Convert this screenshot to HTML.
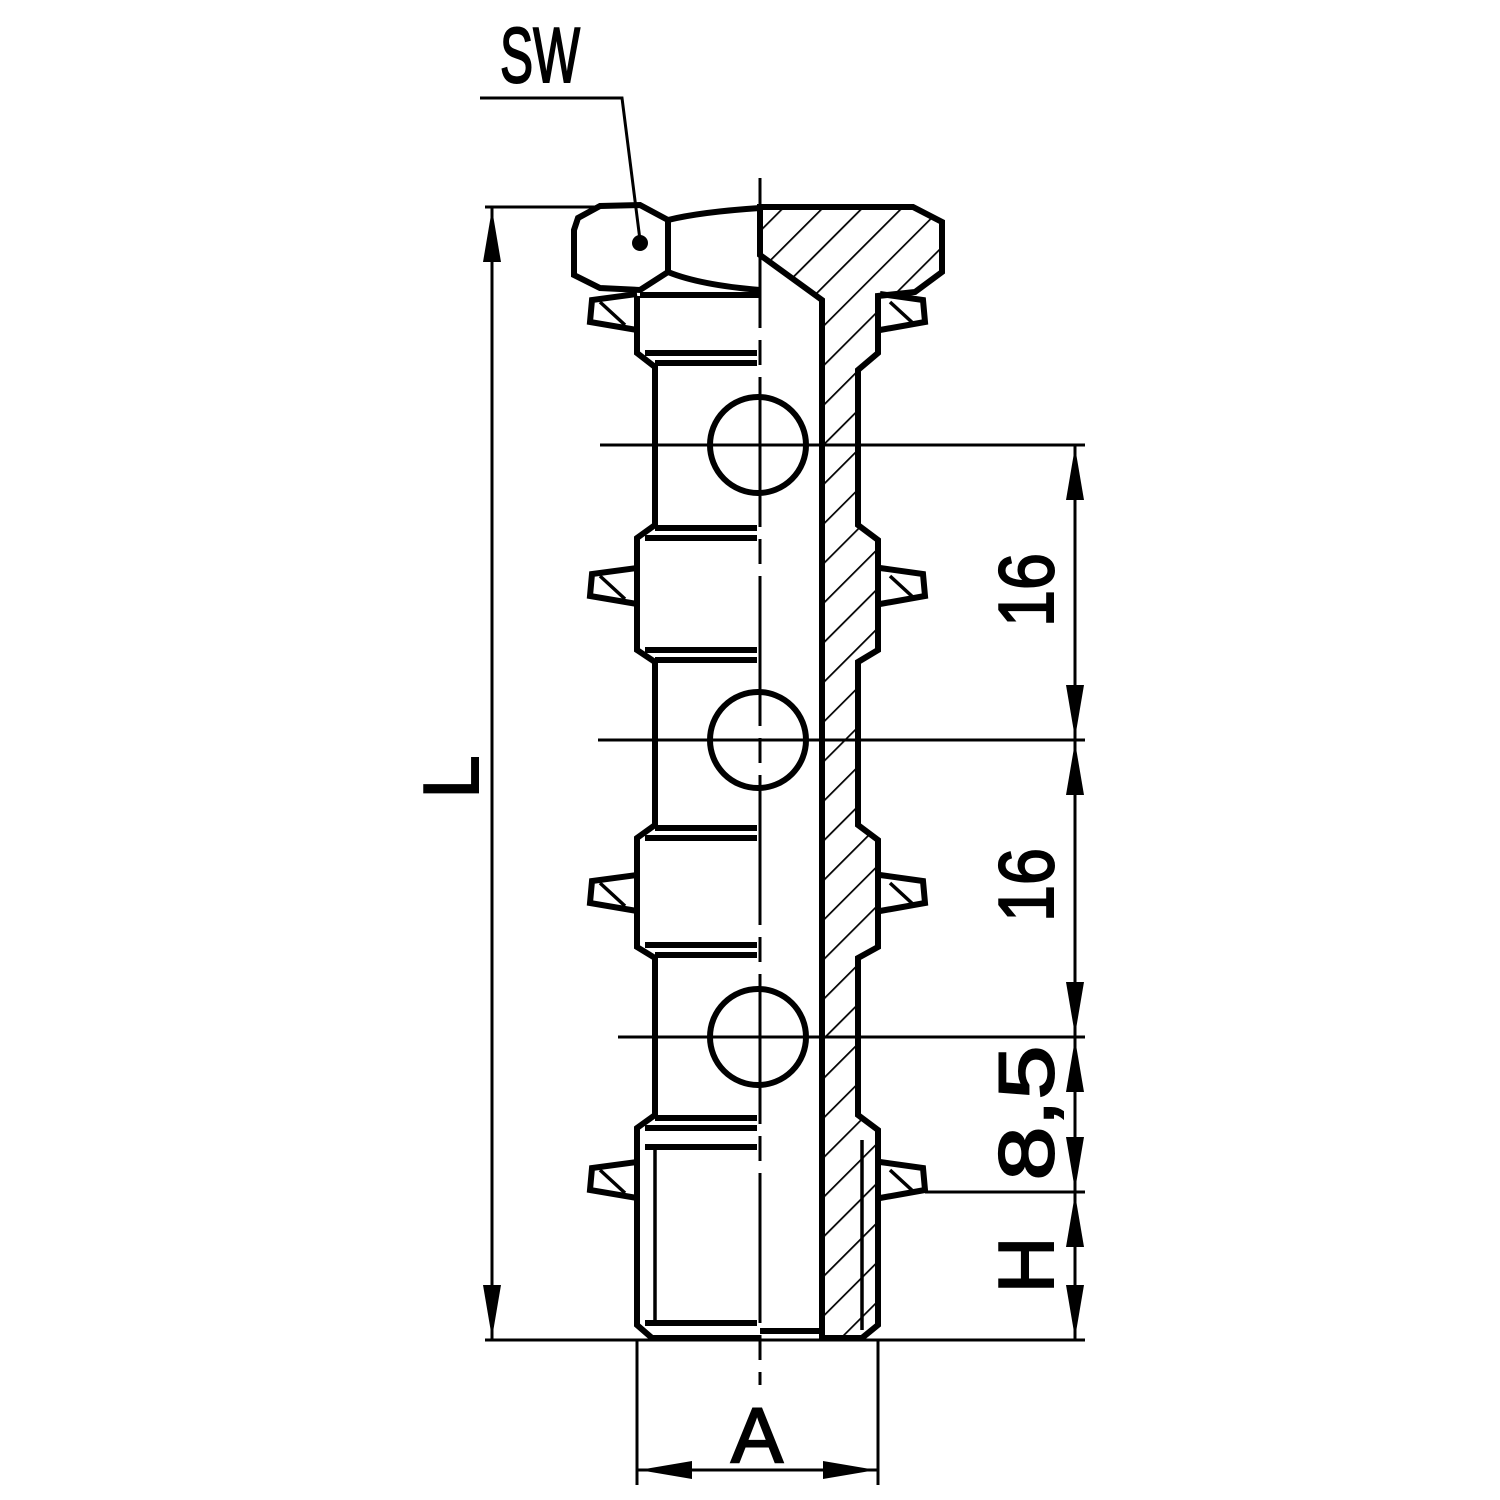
<!DOCTYPE html>
<html><head><style>html,body{margin:0;padding:0;background:#fff}svg{display:block}</style></head>
<body>
<svg width="1500" height="1500" viewBox="0 0 1500 1500" xmlns="http://www.w3.org/2000/svg">
<defs>
<pattern id="h" patternUnits="userSpaceOnUse" width="28" height="28" patternTransform="rotate(45)">
<line x1="0" y1="0" x2="0" y2="28" stroke="#000" stroke-width="3.5"/>
</pattern>
<g id="sealL">
<path d="M637,-18 L592,-12 L590,10 L637,18" fill="none" stroke="#000" stroke-width="6"/>
<line x1="600" y1="-10" x2="625" y2="13" stroke="#000" stroke-width="3.5"/>
</g>
<g id="sealR">
<path d="M880,-18 L923,-12 L925,10 L880,18" fill="none" stroke="#000" stroke-width="6"/>
<line x1="890" y1="-10" x2="915" y2="13" stroke="#000" stroke-width="3.5"/>
</g>
</defs>
<g fill="none" stroke="#000">
<path d="M760,207 L913,207 L942,222 L942,272 L915,292 L878,296 L878,353 L858,370 L858,525 L878,540 L878,650 L858,662 L858,825 L878,840 L878,947 L858,958 L858,1115 L878,1130 L878,1325 L862,1338 L822,1338 L822,300 L760,255 Z" fill="url(#h)" stroke-width="6"/>
<line x1="862" y1="1140" x2="862" y2="1330" stroke-width="3.5"/>
<path d="M600,206 L578,218 L574,230 L574,275 L600,288 L640,290 L668,272 L668,220 L640,205 Z" stroke-width="6"/>
<path d="M668,220 Q700,212 760,208 M668,272 Q700,285 760,290" stroke-width="6"/>
<circle cx="640" cy="243" r="8" fill="#000" stroke="none"/>
<line x1="640" y1="295" x2="760" y2="295" stroke-width="6"/>
<path d="M637,296 L637,353 L655,367 L655,525 L637,538 L637,650 L655,662 L655,825 L637,838 L637,947 L655,958 L655,1115 L637,1128 L637,1325 L652,1338 L760,1338" stroke-width="6"/>
<g stroke-width="6">
<line x1="645" y1="353" x2="757" y2="353"/><line x1="655" y1="363" x2="757" y2="363"/>
<line x1="655" y1="528" x2="757" y2="528"/><line x1="645" y1="538" x2="757" y2="538"/>
<line x1="645" y1="650" x2="757" y2="650"/><line x1="655" y1="660" x2="757" y2="660"/>
<line x1="655" y1="828" x2="757" y2="828"/><line x1="645" y1="838" x2="757" y2="838"/>
<line x1="645" y1="945" x2="757" y2="945"/><line x1="655" y1="955" x2="757" y2="955"/>
<line x1="655" y1="1118" x2="757" y2="1118"/><line x1="645" y1="1128" x2="757" y2="1128"/>
<line x1="645" y1="1147" x2="757" y2="1147"/>
<line x1="645" y1="1323" x2="757" y2="1323"/>
<line x1="760" y1="1331" x2="822" y2="1331"/>
</g>
<line x1="655" y1="1147" x2="655" y2="1323" stroke-width="3.5"/>
<use href="#sealL" y="312"/><use href="#sealR" y="312"/>
<use href="#sealL" y="586"/><use href="#sealR" y="586"/>
<use href="#sealL" y="893"/><use href="#sealR" y="893"/>
<use href="#sealL" y="1180"/><use href="#sealR" y="1180"/>
<circle cx="758" cy="445" r="48" stroke-width="6"/>
<circle cx="758" cy="740" r="48" stroke-width="6"/>
<circle cx="758" cy="1037" r="48" stroke-width="6"/>
<line x1="760" y1="178" x2="760" y2="1385" stroke-width="3" stroke-dasharray="150,12,25,12"/>
<g stroke-width="3">
<line x1="485" y1="207" x2="600" y2="207"/>
<line x1="600" y1="445" x2="1085" y2="445"/>
<line x1="598" y1="740" x2="1085" y2="740"/>
<line x1="618" y1="1037" x2="1085" y2="1037"/>
<line x1="925" y1="1192" x2="1085" y2="1192"/>
<line x1="485" y1="1340" x2="1085" y2="1340"/>
<line x1="637" y1="1340" x2="637" y2="1485"/>
<line x1="878" y1="1340" x2="878" y2="1485"/>
<line x1="492" y1="207" x2="492" y2="1340"/>
<line x1="1075" y1="445" x2="1075" y2="1340"/>
<line x1="637" y1="1470" x2="878" y2="1470"/>
<path d="M480,98 L622,98 L640,240"/>
</g>
</g>
<g fill="#000">
<path d="M492,209 L483,262 L501,262 Z"/><path d="M492,1338 L483,1285 L501,1285 Z"/>
<path d="M1075,447 L1066,500 L1084,500 Z"/><path d="M1075,738 L1066,685 L1084,685 Z"/>
<path d="M1075,742 L1066,795 L1084,795 Z"/><path d="M1075,1035 L1066,982 L1084,982 Z"/>
<path d="M1075,1039 L1066,1092 L1084,1092 Z"/><path d="M1075,1190 L1066,1137 L1084,1137 Z"/>
<path d="M1075,1194 L1066,1247 L1084,1247 Z"/><path d="M1075,1338 L1066,1285 L1084,1285 Z"/>
<path d="M639,1470 L692,1461 L692,1479 Z"/><path d="M876,1470 L823,1461 L823,1479 Z"/>
</g>
<g font-family="Liberation Sans, sans-serif" font-size="78" fill="#000" stroke="#000" stroke-width="2">
<text x="540" y="82" text-anchor="middle" textLength="80" lengthAdjust="spacingAndGlyphs">SW</text>
<text x="757" y="1462" text-anchor="middle">A</text>
<text transform="translate(478,777) rotate(-90)" text-anchor="middle">L</text>
<text transform="translate(1053,590) rotate(-90)" text-anchor="middle" textLength="74" lengthAdjust="spacingAndGlyphs">16</text>
<text transform="translate(1053,885) rotate(-90)" text-anchor="middle" textLength="74" lengthAdjust="spacingAndGlyphs">16</text>
<text transform="translate(1053,1113) rotate(-90)" text-anchor="middle" textLength="135" lengthAdjust="spacingAndGlyphs">8,5</text>
<text transform="translate(1053,1265) rotate(-90)" text-anchor="middle">H</text>
</g>
</svg>
</body></html>
